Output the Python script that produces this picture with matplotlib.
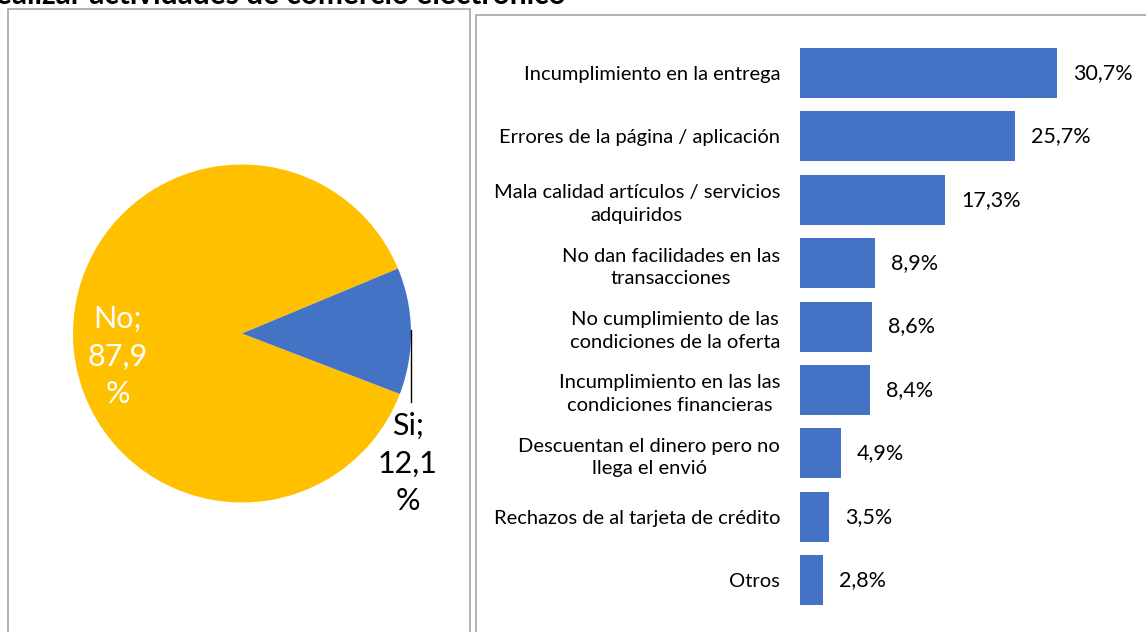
import matplotlib
matplotlib.use("Agg")
import matplotlib.pyplot as plt
from matplotlib.patches import Rectangle

# ---- data ----
pie_labels = ["No", "Si"]
pie_values = [87.9, 12.1]
pie_colors = ["#FFC000", "#4472C4"]

bar_categories = [
    "Incumplimiento en la entrega",
    "Errores de la página / aplicación",
    "Mala calidad artículos / servicios\nadquiridos",
    "No dan facilidades en las\ntransacciones",
    "No cumplimiento de las\ncondiciones de la oferta",
    "Incumplimiento en las las\ncondiciones financieras",
    "Descuentan el dinero pero no\nllega el envió",
    "Rechazos de al tarjeta de crédito",
    "Otros",
]
bar_values = [30.7, 25.7, 17.3, 8.9, 8.6, 8.4, 4.9, 3.5, 2.8]
bar_color = "#4472C4"
title_text = "Problemas al realizar actividades de comercio electrónico"

FONT = ["Lato", "DejaVu Sans"]
plt.rcParams["font.family"] = FONT

W, H = 1146, 632
fig = plt.figure(figsize=(W / 100, H / 100), dpi=100)

def fx(px):
    return px / W

def fy(py):
    return 1 - py / H

# panel borders
fig.patches.append(Rectangle((fx(7.5), fy(640)), fx(469.5 - 7.5), (640 - 8.5) / H,
                             transform=fig.transFigure, fill=False,
                             edgecolor="#a6a6a6", lw=1.2))
fig.patches.append(Rectangle((fx(476), fy(640)), fx(700), (640 - 14.5) / H,
                             transform=fig.transFigure, fill=False,
                             edgecolor="#a6a6a6", lw=1.2))

# title (partially cut at top, as in the source image)
fig.text(fx(566), fy(4), title_text, ha="right", va="baseline",
         fontsize=21.5, fontweight="bold", color="black")

# ---- pie ----
cx, cy, r = 242, 333.5, 169
axp = fig.add_axes([fx(cx - r), (H - cy - r) / H, 2 * r / W, 2 * r / H])
axp.pie(pie_values, colors=pie_colors, startangle=22.6, counterclock=True,
        radius=1, wedgeprops=dict(linewidth=0))
axp.set_xlim(-1, 1)
axp.set_ylim(-1, 1)
axp.set_aspect("equal")
axp.axis("off")

axp.text(-0.735, -0.135, f"{pie_labels[0]};\n{pie_values[0]:.1f}\n%".replace(".", ","),
         ha="center", va="center", color="white", fontsize=22, linespacing=1.42)
axp.text(0.982, -0.77, f"{pie_labels[1]};\n{pie_values[1]:.1f}\n%".replace(".", ","),
         ha="center", va="center", color="black", fontsize=22, linespacing=1.42)
axp.plot([1.0, 1.0], [0.02, -0.405], color="black", lw=1, clip_on=False)

# ---- bars ----
scale = 257 / 30.7  # px per percent
x0 = 800
ax_right = 1120
top_c, bot_c = 73, 580
step = (bot_c - top_c) / (len(bar_values) - 1)
ax_top = top_c - step / 2
ax_bot = bot_c + step / 2
axb = fig.add_axes([fx(x0), (H - ax_bot) / H, (ax_right - x0) / W, (ax_bot - ax_top) / H])
ypos = list(range(len(bar_values)))
axb.barh(ypos, bar_values, height=50 / step, color=bar_color)
axb.set_xlim(0, (ax_right - x0) / scale)
axb.set_ylim(len(bar_values) - 0.5, -0.5)
axb.set_yticks(ypos)
axb.set_yticklabels(bar_categories, fontsize=14.5, multialignment="center",
                    linespacing=1.4)
axb.tick_params(axis="y", length=0, pad=14.4)
axb.set_xticks([])
for s in axb.spines.values():
    s.set_visible(False)
for y, v in zip(ypos, bar_values):
    axb.text(v + 16 / scale, y, f"{v:.1f}%".replace(".", ","), va="center",
             ha="left", fontsize=15.5)

fig.savefig("out.png", dpi=100)
